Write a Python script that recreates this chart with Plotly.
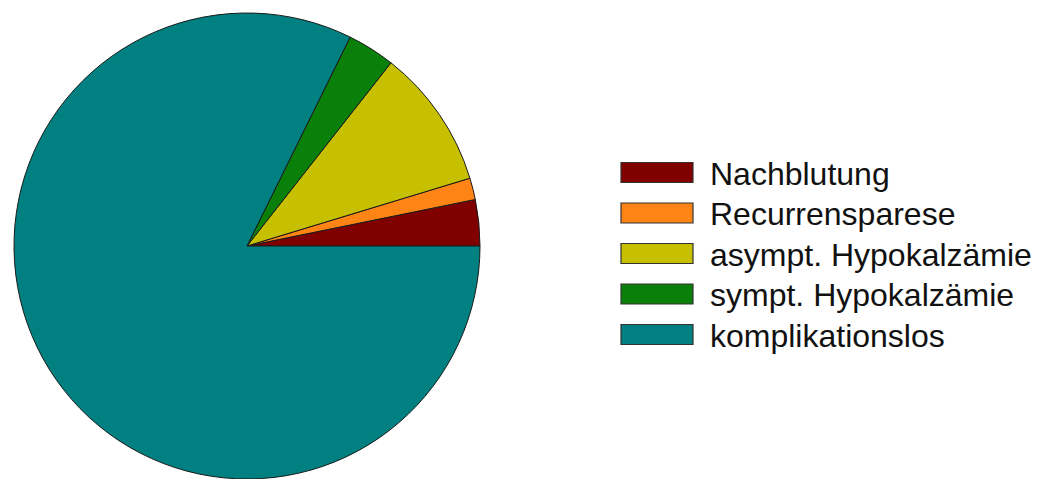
import plotly.graph_objects as go

labels = ["Nachblutung", "Recurrensparese", "asympt. Hypokalzämie",
          "sympt. Hypokalzämie", "komplikationslos"]
values = [3.2, 1.5, 9.7, 3.3, 82.3]
colors = ["#800000", "#ff8416", "#c6c000", "#0a800a", "#008080"]

W, H = 1040, 479

# plotly places the first counterclockwise slice just clockwise of the
# rotation line; shift so it begins at 3 o'clock and runs upward
first_angle = 360.0 * values[0] / sum(values)

fig = go.Figure()
fig.add_trace(go.Pie(
    labels=labels,
    values=values,
    marker=dict(colors=colors, line=dict(color="#1a1a1a", width=1)),
    sort=False,
    direction="counterclockwise",
    rotation=90 - first_angle,
    textinfo="none",
    hoverinfo="label+percent",
    showlegend=False,
    domain=dict(x=[14 / W, 480 / W], y=[0, 466 / H]),
))

# custom legend (large swatches as in the reference)
sw_x0, sw_x1 = 621, 693
row0, row_step, sw_h = 172.5, 40.5, 20
shapes = []
annotations = []
for i, (lab, col) in enumerate(zip(labels, colors)):
    cy = row0 + i * row_step
    shapes.append(dict(
        type="rect", xref="paper", yref="paper",
        x0=sw_x0 / W, x1=sw_x1 / W,
        y0=1 - (cy - sw_h / 2) / H, y1=1 - (cy + sw_h / 2) / H,
        fillcolor=col, line=dict(color="#333333", width=1.2),
    ))
    annotations.append(dict(
        text=lab, xref="paper", yref="paper",
        x=709 / W, y=1 - (cy + 1) / H,
        xanchor="left", yanchor="middle", showarrow=False, borderpad=0,
        font=dict(family="Arial, Liberation Sans, sans-serif", size=32, color="#111111"),
    ))

fig.update_layout(
    width=W, height=H,
    margin=dict(l=0, r=0, t=0, b=0),
    paper_bgcolor="white",
    plot_bgcolor="white",
    shapes=shapes,
    annotations=annotations,
)

fig.write_html("out.html")
